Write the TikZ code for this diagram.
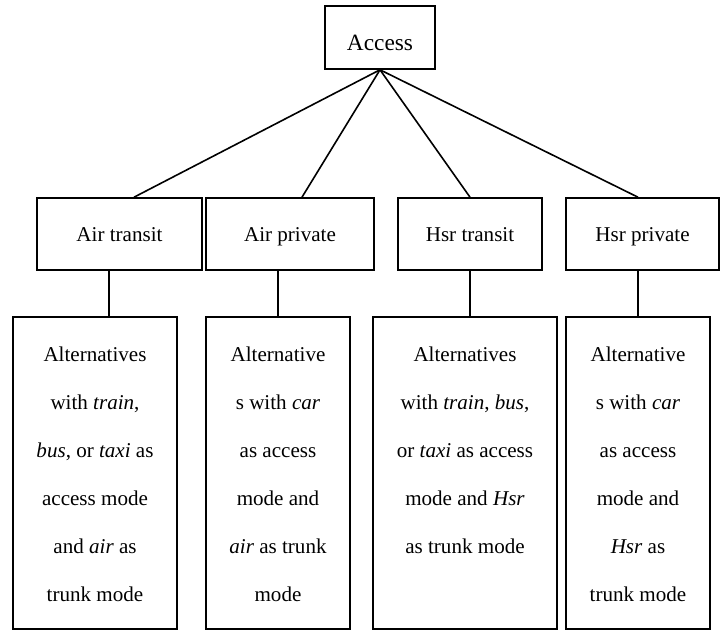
\documentclass[tikz,border=0pt]{standalone}
\usepackage{fontspec}
\setmainfont{Liberation Serif}

\begin{document}
\begin{tikzpicture}[x=0.75pt,y=-0.75pt,line width=1.2pt,
        head/.style={draw,minimum width=82.5pt,minimum height=47.25pt,font=\fontsize{17.5}{21}\selectfont,text height=19pt,text depth=0pt},
        nest/.style={draw,minimum height=54pt,font=\fontsize{15.8}{19}\selectfont,text height=11.25pt,text depth=0pt},
        alt/.style={draw,minimum height=234pt},
        alttext/.style={anchor=north,inner sep=0pt,align=center,font=\fontsize{15.8}{36}\selectfont}]
        \useasboundingbox (0,0) rectangle (728,630);
        \node[head] (acc) at (380,37.5) {Access};
        \foreach \n/\x/\w/\t in {airT/119.5/123.75/Air transit,airP/290/126/Air private,hsrT/470/108/Hsr transit,hsrP/642.5/114.75/Hsr private}{
            \node[nest,minimum width=\w pt] (\n) at (\x,234) {\t};
        }
        \foreach \n/\x/\w in {alt1/95/123,alt2/278/108,alt3/465/138,alt4/638/108}{
            \node[alt,minimum width=\w pt] (\n) at (\x,473) {};
        }
        \node[alttext] (alt1txt) at ([yshift=-22.1pt]alt1.north) {Alternatives\\with \textit{train},\\\textit{bus}, or \textit{taxi} as\\access mode\\and \textit{air} as\\trunk mode};
        \node[alttext] (alt2txt) at ([yshift=-22.1pt]alt2.north) {Alternative\\s with \textit{car}\\as access\\mode and\\\textit{air} as trunk\\mode};
        \node[alttext] (alt3txt) at ([yshift=-22.1pt]alt3.north) {Alternatives\\with \textit{train}, \textit{bus},\\or \textit{taxi} as access\\mode and \textit{Hsr}\\as trunk mode};
        \node[alttext] (alt4txt) at ([yshift=-22.1pt]alt4.north) {Alternative\\s with \textit{car}\\as access\\mode and\\\textit{Hsr} as\\trunk mode};
        \foreach \b/\s in {airT/10.9,airP/9,hsrT/0,hsrP/-3.4}{
            \draw (acc.south) -- ([xshift=\s pt]\b.north);
        }
        \foreach \a/\b/\sa/\sb in {airT/alt1/-7.9/10.5,airP/alt2/-9/0,hsrT/alt3/0/3.75,hsrP/alt4/-3.4/0}{
            \draw ([xshift=\sa pt]\a.south) -- ([xshift=\sb pt]\b.north);
        }
    \end{tikzpicture}
\end{document}
